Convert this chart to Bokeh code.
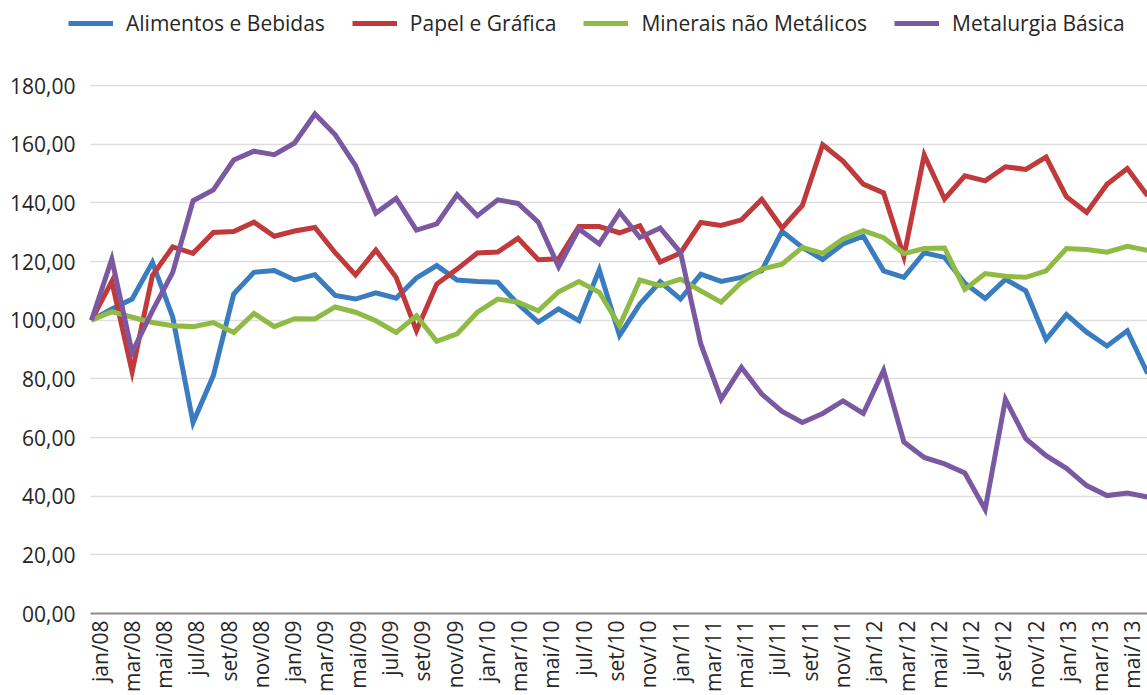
from math import pi
from bokeh.plotting import figure
from bokeh.models import (Range1d, LinearAxis, FixedTicker, Legend, LegendItem,
                          BoxAnnotation)
from bokeh.embed import file_html
from bokeh.resources import INLINE

# ---------------- data ----------------
series_names = ["Alimentos e Bebidas", "Papel e Gráfica",
                "Minerais não Metálicos", "Metalurgia Básica"]

alimentos = [100, 103.8, 107.2, 119.7, 101, 65.1, 81.1, 108.9, 116.3, 116.9,
             113.7, 115.5, 108.4, 107.2, 109.3, 107.5, 114.4, 118.6, 113.7, 113.2,
             112.9, 105.5, 99.3, 103.8, 99.8, 117.2, 94.8, 105.5, 113.1, 107.2,
             115.7, 113.2, 114.6, 116.9, 130.3, 124.8, 120.7, 126, 128.6, 116.8,
             114.6, 123, 121.4, 112.6, 107.4, 113.9, 110, 93.4, 101.9, 95.9,
             91.2, 96.4, 81.8]

papel = [100, 113.2, 82.4, 115.2, 125, 122.8, 129.9, 130.2, 133.4, 128.6,
         130.4, 131.6, 123, 115.4, 123.9, 114.6, 96.4, 112.3, 117.4, 122.9,
         123.2, 127.9, 120.6, 120.9, 131.9, 131.9, 129.8, 132.2, 119.8, 122.9,
         133.3, 132.3, 134.2, 141.2, 131.4, 139.1, 159.8, 154.2, 146.4, 143.4,
         121.7, 156.3, 141.3, 149.2, 147.5, 152.3, 151.4, 155.6, 142.1, 136.7,
         146.3, 151.7, 142.4]

minerais = [100, 102.9, 101, 99.2, 98.1, 97.8, 99.2, 95.8, 102.3, 97.8,
            100.5, 100.4, 104.5, 102.7, 99.8, 95.8, 101.5, 92.8, 95.3, 102.7,
            107.2, 106.1, 103.2, 109.7, 113.2, 109.5, 98.1, 113.7, 111.8, 114,
            110, 106.1, 112.9, 117.4, 119.1, 124.8, 122.8, 127.7, 130.5, 128.1,
            122.7, 124.4, 124.6, 110.5, 115.9, 115, 114.6, 116.8, 124.4, 124.1,
            123.2, 125.2, 123.8]

metalurgia = [100, 120.8, 89, 103.2, 116.3, 140.7, 144.4, 154.6, 157.6, 156.4,
              160.4, 170.3, 163.2, 152.7, 136.5, 141.5, 130.7, 132.8, 142.8, 135.6,
              141, 139.8, 133.4, 118.2, 131.1, 126, 136.8, 128.2, 131.4, 123.1,
              91.9, 73.1, 83.9, 74.8, 68.9, 65.1, 68.2, 72.5, 68.2, 82.9,
              58.5, 53.2, 51, 47.9, 35.5, 73, 59.6, 53.8, 49.5, 43.6,
              40.2, 41.1, 39.7]

tick_labels = ["jan/08", "mar/08", "mai/08", "jul/08", "set/08", "nov/08",
               "jan/09", "mar/09", "mai/09", "jul/09", "set/09", "nov/09",
               "jan/10", "mar/10", "mai/10", "jul/10", "set/10", "nov/10",
               "jan/11", "mar/11", "mai/11", "jul/11", "set/11", "nov/11",
               "jan/12", "mar/12", "mai/12", "jul/12", "set/12", "nov/12",
               "jan/13", "mar/13", "mai/13"]
tick_months = [2 * i for i in range(len(tick_labels))]

y_ticks = [0, 20, 40, 60, 80, 100, 120, 140, 160, 180]
y_tick_labels = ["00,00", "20,00", "40,00", "60,00", "80,00", "100,00",
                 "120,00", "140,00", "160,00", "180,00"]

colors = ["#3a7cc0", "#c0393b", "#8fbb45", "#7b59a2"]

# ---------------- layout constants (pixels) ----------------
FONT = "Open Sans"
TXT = "#262626"
W, H = 1147, 695
FRAME_L = 68          # frame starts left of the plotting area so the legend fits
PLOT_L = 90           # visible start of plotting area
AXIS_Y = 613          # y pixel of value 0
TOP_Y = 85            # y pixel of value 180
PT_X0, PT_DX = 91, 20.31      # first point pixel and point spacing
MO_X0, MO_DX = 99, 16.14      # jan/08 label pixel and month spacing

n = len(alimentos)
x = list(range(n))

y_top = 180 * AXIS_Y / (AXIS_Y - TOP_Y)
x_start = (FRAME_L - PT_X0) / PT_DX
x_end = (W - PT_X0) / PT_DX
m_start = (FRAME_L - MO_X0) / MO_DX
m_plot = (PLOT_L - MO_X0) / MO_DX
m_end = (W - MO_X0) / MO_DX

p = figure(width=W, height=H, output_backend="svg", toolbar_location=None,
           x_range=Range1d(x_start, x_end), y_range=Range1d(0, y_top),
           x_axis_location=None,
           min_border_left=FRAME_L, min_border_right=0,
           min_border_top=0, min_border_bottom=H - AXIS_Y)
p.outline_line_color = None
p.background_fill_color = "white"
p.border_fill_color = "white"
p.xgrid.visible = False
p.ygrid.grid_line_color = "#dedede"
p.ygrid.grid_line_width = 1.3
p.ygrid.ticker = FixedTicker(ticks=y_ticks)

# white strip hiding gridlines left of the plotting area
p.add_layout(BoxAnnotation(right=(PLOT_L - PT_X0) / PT_DX, fill_color="white",
                           fill_alpha=1, line_color=None, level="underlay"))

yax = p.yaxis[0]
yax.ticker = FixedTicker(ticks=y_ticks)
yax.major_label_overrides = {t: l for t, l in zip(y_ticks, y_tick_labels)}
yax.axis_line_color = None
yax.major_tick_line_color = None
yax.minor_tick_line_color = None
yax.major_tick_out = 0
yax.major_tick_in = 0
yax.major_label_standoff = -(75 - FRAME_L)
yax.major_label_text_font = FONT
yax.major_label_text_font_size = "21px"
yax.major_label_text_color = TXT

p.extra_x_ranges = {"months": Range1d(m_start, m_end)}
xax = LinearAxis(x_range_name="months",
                 ticker=FixedTicker(ticks=tick_months),
                 major_label_overrides={m: l for m, l in zip(tick_months, tick_labels)},
                 major_label_orientation=pi / 2,
                 bounds=(m_plot, m_end))
xax.axis_line_color = "#8c8c8c"
xax.axis_line_width = 2
xax.major_tick_line_color = None
xax.minor_tick_line_color = None
xax.major_tick_out = 0
xax.major_tick_in = 0
xax.major_label_standoff = 7
xax.major_label_text_font = FONT
xax.major_label_text_font_size = "21px"
xax.major_label_text_color = TXT
p.add_layout(xax, "below")

items = []
for name, vals, col in zip(series_names, [alimentos, papel, minerais, metalurgia], colors):
    r = p.line(x, vals, line_color=col, line_width=5, line_join="miter")
    items.append(LegendItem(label=name, renderers=[r]))

legend = Legend(items=items, orientation="horizontal", location=(0, AXIS_Y - 37),
                glyph_width=45, glyph_height=20, label_standoff=13, spacing=27,
                padding=0, margin=0, border_line_color=None,
                background_fill_alpha=0,
                label_text_font=FONT, label_text_font_size="21px",
                label_text_color=TXT)
p.add_layout(legend, "center")

open("out.html", "w").write(file_html(p, INLINE))
